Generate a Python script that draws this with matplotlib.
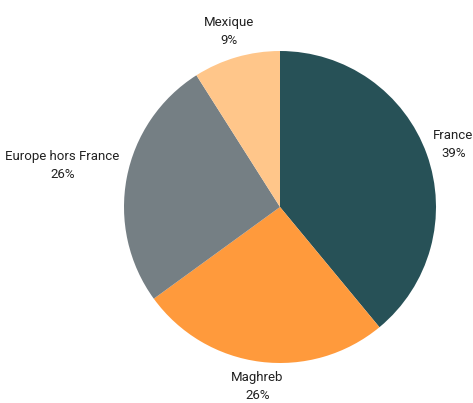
import matplotlib.pyplot as plt
import numpy as np

labels = ["France", "Maghreb", "Europe hors France", "Mexique"]
shares = [39, 26, 26, 9]
colors = ["#275157", "#FF9A3C", "#757F84", "#FFC68A"]
label_dist = [1.18, 1.16, 1.42, 1.17]

fig = plt.figure(figsize=(4.73, 4.03), dpi=100)
cx, cy, r = 280, 207, 156
ax = fig.add_axes([(cx - r) / 473, (403 - cy - r) / 403, 2 * r / 473, 2 * r / 403])
wedges, _ = ax.pie(shares, colors=colors, startangle=90, counterclock=False,
                   radius=1, wedgeprops=dict(linewidth=0))
ax.set_xlim(-1, 1)
ax.set_ylim(-1, 1)
ax.set_aspect("equal")

# labels centred outside each slice
for w, name, val, d in zip(wedges, labels, shares, label_dist):
    ang = np.deg2rad((w.theta1 + w.theta2) / 2)
    ax.text(d * np.cos(ang), d * np.sin(ang), "%s\n%d%%" % (name, val),
            ha="center", va="center", fontsize=9.5, family=["Roboto", "DejaVu Sans"],
            color="#222222", linespacing=1.5, clip_on=False)

fig.savefig("out.png", dpi=100)
